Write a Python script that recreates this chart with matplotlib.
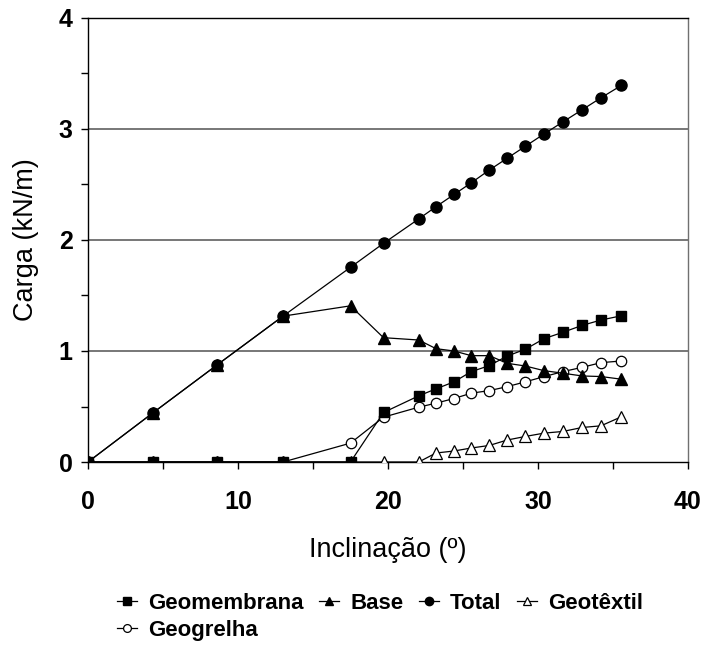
import matplotlib
matplotlib.use("Agg")
import matplotlib.pyplot as plt
from matplotlib.ticker import MultipleLocator

plt.rcParams['font.family'] = ['Liberation Sans', 'DejaVu Sans']

inclinacao = [0, 4.3, 8.6, 13.0, 17.5, 19.7, 22.05, 23.2, 24.4, 25.55, 26.75,
              27.95, 29.15, 30.4, 31.65, 32.95, 34.2, 35.55]
geomembrana = [0, 0, 0, 0, 0, 0.446, 0.596, 0.659, 0.722, 0.814, 0.868,
               0.955, 1.015, 1.111, 1.168, 1.231, 1.279, 1.317]
base = [0, 0.44, 0.874, 1.314, 1.407, 1.12, 1.099, 1.021, 1.0, 0.958, 0.958,
        0.889, 0.865, 0.823, 0.80, 0.775, 0.77, 0.746]
total = [0, 0.44, 0.874, 1.314, 1.754, 1.97, 2.19, 2.30, 2.41, 2.515, 2.63,
         2.737, 2.844, 2.955, 3.063, 3.174, 3.281, 3.392]
geotextil = [0, 0, 0, 0, 0, 0, 0, 0.081, 0.099, 0.126, 0.149,
             0.198, 0.23, 0.26, 0.275, 0.311, 0.326, 0.407]
geogrelha = [0, 0, 0, 0, 0.17, 0.404, 0.494, 0.53, 0.572, 0.62, 0.643,
             0.679, 0.722, 0.769, 0.814, 0.853, 0.895, 0.91]

fig = plt.figure(figsize=(7.06, 6.48), dpi=100)
ax = fig.add_axes([88/706, 1-462/648, 600/706, 444/648])

lw = 0.9
h_gt, = ax.plot(inclinacao, geotextil, color='black', lw=lw, marker='^', ms=8,
                mfc='white', mec='black', mew=0.9, label='Geotêxtil', zorder=3)
h_gg, = ax.plot(inclinacao, geogrelha, color='black', lw=lw, marker='o', ms=7.5,
                mfc='white', mec='black', mew=0.9, label='Geogrelha', zorder=3)
h_gm, = ax.plot(inclinacao, geomembrana, color='black', lw=lw, marker='s', ms=7.5,
                mfc='black', mec='black', label='Geomembrana', zorder=4)
h_b, = ax.plot(inclinacao, base, color='black', lw=lw, marker='^', ms=8.5,
               mfc='black', mec='black', label='Base', zorder=4)
h_t, = ax.plot(inclinacao, total, color='black', lw=lw, marker='o', ms=8,
               mfc='black', mec='black', label='Total', zorder=5)

ax.set_xlim(0, 40)
ax.set_ylim(0, 4)
ax.xaxis.set_major_locator(MultipleLocator(10))
ax.xaxis.set_minor_locator(MultipleLocator(5))
ax.yaxis.set_major_locator(MultipleLocator(1))
ax.yaxis.set_minor_locator(MultipleLocator(0.5))
ax.tick_params(which='both', direction='out', length=5, width=1, color='black')
ax.tick_params(axis='x', which='major', labelsize=18, pad=15)
ax.tick_params(axis='y', which='major', labelsize=18, pad=6)
for lab in ax.get_xticklabels() + ax.get_yticklabels():
    lab.set_fontweight('bold')

for y in [1, 2, 3]:
    ax.axhline(y, color='#606060', lw=1.2, zorder=1)

ax.spines['left'].set_color('black')
ax.spines['bottom'].set_color('black')
ax.spines['top'].set_color('black')
ax.spines['right'].set_color('#707070')
for s in ax.spines.values():
    s.set_linewidth(1)

ax.set_xlabel('Inclinação (º)', fontsize=19.5, labelpad=17)
ax.set_ylabel('Carga (kN/m)', fontsize=19.5, labelpad=14)

handles = [h_gm, h_gg, h_b, h_t, h_gt]
leg = fig.legend(handles=handles, labels=[h.get_label() for h in handles],
                 ncol=4, loc='upper left', bbox_to_anchor=(106/706, 1-582/648),
                 frameon=False, handlelength=0.9, handletextpad=0.5,
                 columnspacing=0.7, labelspacing=0.25, markerscale=0.75,
                 borderpad=0, prop={'weight': 'bold', 'size': 16})

fig.savefig('out.png', dpi=100)
